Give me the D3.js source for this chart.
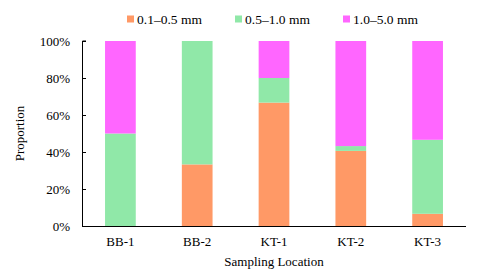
<!DOCTYPE html>
<html>
<head>
<meta charset="utf-8">
<script src="https://cdn.jsdelivr.net/npm/d3@7"></script>
<style>
    body { margin: 0; background: white; }
    text { font-family: 'Liberation Serif', 'Times New Roman', serif; fill: #000; }
</style>
</head>
<body>
<svg id="chart"></svg>
<script>
const locations = ['BB-1', 'BB-2', 'KT-1', 'KT-2', 'KT-3'];
const sizeClasses = ['0.1–0.5 mm', '0.5–1.0 mm', '1.0–5.0 mm'];
const fine = [0, 33.3, 66.7, 40.6, 6.6];
const medium = [50, 66.7, 13.3, 2.6, 40];
const coarse = [50, 0, 20, 56.8, 53.4];
const yTicks = [0, 20, 40, 60, 80, 100];
const colors = ['#FF9966', '#90E8A8', '#FF66FF'];

const width = 480, height = 271;
const margin = { top: 41, right: 14, bottom: 45, left: 82 };

const svg = d3.select('#chart').attr('width', width).attr('height', height);

const rows = locations.map((loc, i) => ({
    loc: loc,
    [sizeClasses[0]]: fine[i],
    [sizeClasses[1]]: medium[i],
    [sizeClasses[2]]: coarse[i],
}));
const stacked = d3.stack().keys(sizeClasses)(rows);

const x = d3.scaleBand()
    .domain(locations)
    .range([margin.left, width - margin.right])
    .paddingInner(0.6)
    .paddingOuter(0.3);
const y = d3.scaleLinear()
    .domain([0, 100])
    .range([height - margin.bottom, margin.top]);

svg.append('g')
    .selectAll('g')
    .data(stacked)
    .join('g')
    .attr('fill', (d, i) => colors[i])
    .selectAll('rect')
    .data(d => d)
    .join('rect')
    .attr('x', d => x(d.data.loc))
    .attr('width', x.bandwidth())
    .attr('y', d => y(d[1]))
    .attr('height', d => y(d[0]) - y(d[1]));

// y axis, ticks pointing inward
const yAxis = svg.append('g')
    .attr('transform', `translate(${margin.left},0)`)
    .call(d3.axisRight(y).tickValues(yTicks).tickSize(4).tickFormat(d => d + '%'));
yAxis.select('.domain').attr('d', `M4,${y(100)}H0.5V${y(0)}`).attr('stroke', '#000');
yAxis.selectAll('.tick line').attr('stroke', '#000');
yAxis.selectAll('.tick text')
    .attr('x', -12)
    .attr('text-anchor', 'end')
    .style('font-size', '13px');
yAxis.attr('font-family', null);

// x axis
const xAxis = svg.append('g')
    .attr('transform', `translate(0,${y(0)})`)
    .call(d3.axisBottom(x).tickSize(0).tickPadding(11));
xAxis.select('.domain').attr('stroke', '#000').attr('d', `M${margin.left},0.5H${width - margin.right}`);
xAxis.selectAll('.tick text').style('font-size', '13px');
xAxis.attr('font-family', null);

svg.append('text')
    .attr('x', (margin.left + width - margin.right) / 2)
    .attr('y', 266)
    .attr('text-anchor', 'middle')
    .style('font-size', '13px')
    .text('Sampling Location');

svg.append('text')
    .attr('transform', `translate(24,${(y(0) + y(100)) / 2}) rotate(-90)`)
    .attr('text-anchor', 'middle')
    .style('font-size', '13px')
    .text('Proportion');

// legend
const legendX = [127, 235, 343];
const legend = svg.append('g')
    .selectAll('g')
    .data(sizeClasses)
    .join('g')
    .attr('transform', (d, i) => `translate(${legendX[i]},19)`);
legend.append('rect')
    .attr('x', 0).attr('y', -3.5)
    .attr('width', 7).attr('height', 7)
    .attr('fill', (d, i) => colors[i]);
legend.append('text')
    .attr('x', 10)
    .attr('y', 5)
    .style('font-size', '13.5px')
    .text(d => d);
</script>
</body>
</html>
